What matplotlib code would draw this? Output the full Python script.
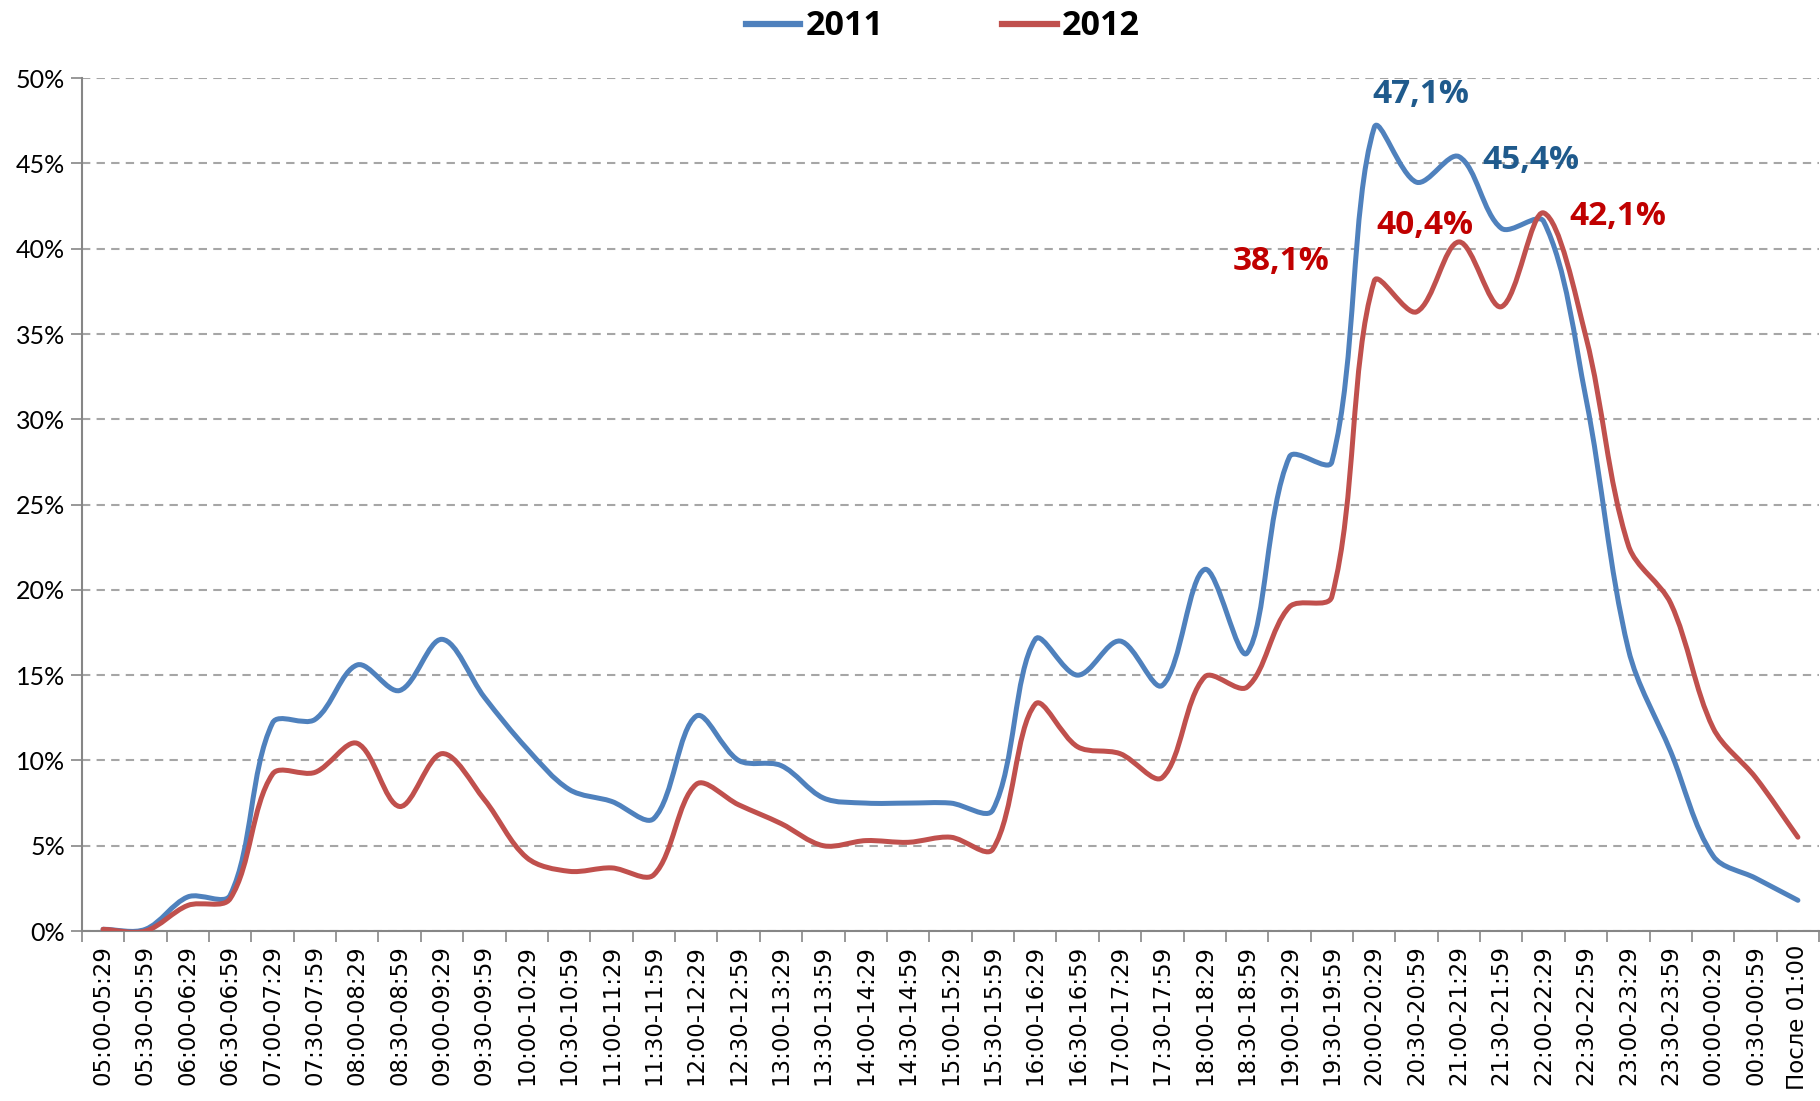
import numpy as np
import matplotlib
matplotlib.use("Agg")
import matplotlib.pyplot as plt
from matplotlib.path import Path
from matplotlib.patches import PathPatch
from matplotlib.lines import Line2D

# categories (half-hour slots)
slots = ["05:00-05:29", "05:30-05:59", "06:00-06:29", "06:30-06:59", "07:00-07:29",
         "07:30-07:59", "08:00-08:29", "08:30-08:59", "09:00-09:29", "09:30-09:59",
         "10:00-10:29", "10:30-10:59", "11:00-11:29", "11:30-11:59", "12:00-12:29",
         "12:30-12:59", "13:00-13:29", "13:30-13:59", "14:00-14:29", "14:30-14:59",
         "15:00-15:29", "15:30-15:59", "16:00-16:29", "16:30-16:59", "17:00-17:29",
         "17:30-17:59", "18:00-18:29", "18:30-18:59", "19:00-19:29", "19:30-19:59",
         "20:00-20:29", "20:30-20:59", "21:00-21:29", "21:30-21:59", "22:00-22:29",
         "22:30-22:59", "23:00-23:29", "23:30-23:59", "00:00-00:29", "00:30-00:59",
         "После 01:00"]

# share of audience, %
y2011 = [0.1, 0.1, 2.0, 2.1, 12.2, 12.4, 15.6, 14.1, 17.1, 13.7,
         10.7, 8.3, 7.6, 6.6, 12.6, 10.0, 9.7, 7.8, 7.5, 7.5,
         7.5, 7.1, 17.1, 15.0, 17.0, 14.4, 21.2, 16.3, 27.8, 27.5,
         47.1, 43.9, 45.4, 41.2, 41.6, 31.2, 16.5, 10.5, 4.4, 3.1,
         1.8]
y2012 = [0.1, 0.0, 1.5, 1.9, 9.2, 9.3, 11.0, 7.3, 10.4, 7.7,
         4.3, 3.5, 3.7, 3.3, 8.6, 7.4, 6.3, 5.0, 5.3, 5.2,
         5.5, 4.8, 13.3, 10.8, 10.4, 9.0, 14.9, 14.3, 19.0, 19.6,
         38.1, 36.3, 40.4, 36.6, 42.1, 34.8, 22.6, 19.2, 11.9, 9.0,
         5.5]

# labelled points: (index, text)
labels_2011 = [(30, "47,1%"), (32, "45,4%")]
labels_2012 = [(30, "38,1%"), (32, "40,4%"), (34, "42,1%")]

blue = "#4F81BD"
red = "#C0504D"
blue_txt = "#1F5A8C"
red_txt = "#C00000"


def smooth_path(ax, x, y, t=1/3):
    # excel-like smoothing: bezier with tangents scaled by segment lengths (in pixels)
    pts = ax.transData.transform(np.column_stack([x, y]))
    n = len(pts)
    seg = np.hypot(*np.diff(pts, axis=0).T)
    tang = np.zeros_like(pts)
    for i in range(1, n - 1):
        tang[i] = pts[i + 1] - pts[i - 1]
    verts = [pts[0]]
    codes = [Path.MOVETO]
    for i in range(n - 1):
        d1 = seg[i]
        if i > 0:
            c1 = pts[i] + tang[i] * t * d1 / (seg[i - 1] + d1)
        else:
            c1 = pts[i] + (pts[i + 1] - pts[i]) * t
        if i + 1 < n - 1:
            c2 = pts[i + 1] - tang[i + 1] * t * d1 / (d1 + seg[i + 1])
        else:
            c2 = pts[i + 1] - (pts[i + 1] - pts[i]) * t
        verts += [c1, c2, pts[i + 1]]
        codes += [Path.CURVE4] * 3
    data = ax.transData.inverted().transform(np.array(verts))
    return Path(data, codes)


fig = plt.figure(figsize=(18.2, 11.01), dpi=100)
ax = fig.add_axes([0.045, 0.1544, 0.9545, 0.7746])

x = np.arange(len(slots))
ax.set_xlim(-0.5, len(slots) - 0.5)
ax.set_ylim(0, 50)

for vals, col in [(y2011, blue), (y2012, red)]:
    ax.add_patch(PathPatch(smooth_path(ax, x, np.array(vals)), facecolor="none",
                           edgecolor=col, lw=3.6, capstyle="round", joinstyle="round", zorder=3))

ax.set_yticks(np.arange(0, 51, 5))
ax.set_yticklabels([f"{v}%" for v in range(0, 51, 5)], fontsize=18, family="Lato")
ax.yaxis.grid(True, color="#A6A6A6", linestyle=(0, (4, 3)), lw=1.5)
ax.set_axisbelow(True)

ax.set_xticks(x)
ax.set_xticklabels(slots, rotation=90, fontsize=16.5, family="DejaVu Sans")
ax.set_xticks(np.arange(-0.5, len(slots)), minor=True)
ax.tick_params(axis="x", which="major", length=0, pad=10)
ax.tick_params(axis="x", which="minor", length=8, width=1.2, color="#868686", direction="out")
ax.tick_params(axis="y", length=8, width=1.2, color="#868686", pad=4)

for s in ["top", "right"]:
    ax.spines[s].set_visible(False)
for s in ["left", "bottom"]:
    ax.spines[s].set_color("#868686")
    ax.spines[s].set_linewidth(1.5)

lab_font = dict(fontsize=24, fontweight="bold", family="Open Sans")
offsets_2011 = {30: (1.1, 1.0), 32: (1.7, -1.2)}
offsets_2012 = {30: (-2.2, 0.2), 32: (-0.8, 0.0), 34: (1.75, -1.2)}
for i, t in labels_2011:
    dx, dy = offsets_2011[i]
    ax.text(i + dx, y2011[i] + dy, t, color=blue_txt, ha="center", va="bottom", **lab_font)
for i, t in labels_2012:
    dx, dy = offsets_2012[i]
    ax.text(i + dx, y2012[i] + dy, t, color=red_txt, ha="center", va="bottom", **lab_font)

handles = [Line2D([], [], color=blue, lw=4.5), Line2D([], [], color=red, lw=4.5)]
fig.legend(handles, ["2011", "2012"], loc="center", bbox_to_anchor=(0.518, 0.976),
           ncol=2, frameon=False, handlelength=1.6, handletextpad=0.15, columnspacing=3.5,
           prop=dict(family="Open Sans", weight="bold", size=24.5))

fig.savefig("out.png", dpi=100)
